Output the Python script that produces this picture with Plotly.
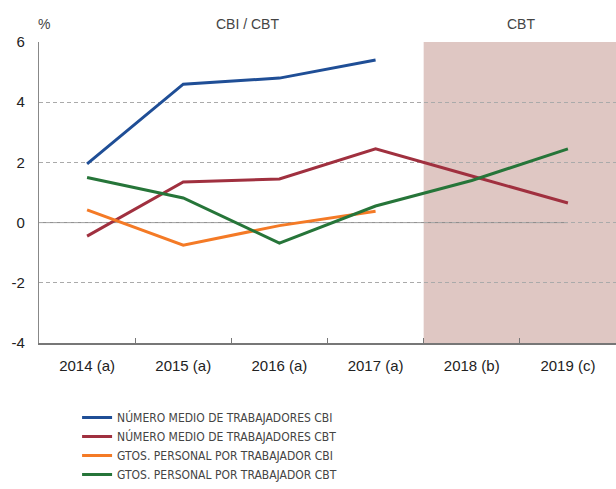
import plotly.graph_objects as go

years = ['2014 (a)', '2015 (a)', '2016 (a)', '2017 (a)', '2018 (b)', '2019 (c)']

num_cbi = [1.95, 4.6, 4.8, 5.4, None, None]
num_cbt = [-0.45, 1.35, 1.45, 2.45, 1.55, 0.65]
gtos_cbi = [0.42, -0.75, -0.1, 0.38, None, None]
gtos_cbt = [1.5, 0.82, -0.68, 0.55, 1.4, 2.45]

y_ticks = [-4, -2, 0, 2, 4, 6]
y_labels = ['-4', '-2', '0', '2', '4', '6']

series = [
    ('NÚMERO MEDIO DE TRABAJADORES CBI', num_cbi, '#1f4e96'),
    ('NÚMERO MEDIO DE TRABAJADORES CBT', num_cbt, '#a0303f'),
    ('GTOS. PERSONAL POR TRABAJADOR CBI', gtos_cbi, '#f47a26'),
    ('GTOS. PERSONAL POR TRABAJADOR CBT', gtos_cbt, '#267539'),
]

fig = go.Figure()
for name, vals, color in series:
    fig.add_trace(go.Scatter(x=years, y=vals, mode='lines', name=name,
                             line=dict(color=color, width=3)))

# zona de previsiones (CBT)
fig.add_shape(type='rect', xref='x', yref='paper', x0=3.5, x1=5.5, y0=0, y1=1,
              fillcolor='#dfc7c3', line=dict(width=0), layer='below')
# linea de cero
fig.add_shape(type='line', xref='x', yref='y', x0=-0.5, x1=5, y0=0, y1=0,
              line=dict(color='#888888', width=1), layer='below')

top_font = dict(size=14, color='#444')
fig.add_annotation(text='%', xref='paper', yref='paper', x=-0.005, y=1.028,
                   xanchor='left', yanchor='bottom', showarrow=False, font=top_font)
fig.add_annotation(text='CBI / CBT', xref='paper', yref='paper', x=0.362, y=1.028,
                   xanchor='center', yanchor='bottom', showarrow=False, font=top_font)
fig.add_annotation(text='CBT', xref='paper', yref='paper', x=0.836, y=1.028,
                   xanchor='center', yanchor='bottom', showarrow=False, font=top_font)

fig.update_layout(
    width=616, height=489,
    margin=dict(l=39, r=0, t=42, b=145),
    plot_bgcolor='white', paper_bgcolor='white',
    font=dict(family='Liberation Sans, Arial, sans-serif', color='#222'),
    showlegend=True,
    legend=dict(x=0.066, y=-0.2, xanchor='left', yanchor='top',
                font=dict(family='DejaVu Sans Condensed, Liberation Sans Narrow, Liberation Sans',
                          size=12, color='#444'),
                bgcolor='rgba(0,0,0,0)', tracegroupgap=0),
)
fig.update_xaxes(type='category', range=[-0.5, 5.5], showgrid=False, automargin=False,
                 showline=True, linecolor='#777', linewidth=1.5, tickangle=0,
                 ticks='inside', tickson='boundaries', ticklen=5, tickcolor='#777',
                 tickfont=dict(size=15, color='#222'), ticklabelstandoff=8)
fig.update_yaxes(range=[-4, 6], tickvals=y_ticks, ticktext=y_labels,
                 showgrid=True, gridcolor='#aaaaaa', automargin=False,
                 griddash='4px,3px', gridwidth=1, zeroline=False,
                 showline=True, linecolor='#888', linewidth=1.2,
                 tickfont=dict(size=15, color='#222'), ticklabelstandoff=10)

# sin margen del body para que la figura ocupe toda la ventana
fig.write_html('out.html', config={'displayModeBar': False},
               post_script="document.body.style.margin='0';document.body.style.overflow='hidden';")
